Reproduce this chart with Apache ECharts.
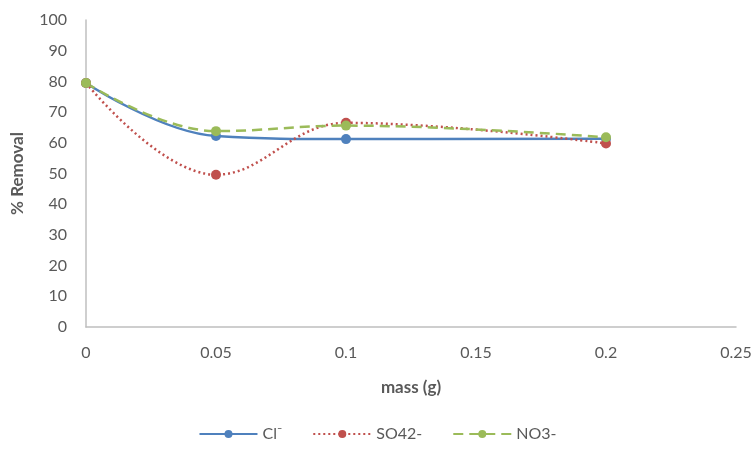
<!DOCTYPE html>
<html>
<head>
<meta charset="utf-8">
<script src="https://cdn.jsdelivr.net/npm/echarts@6/dist/echarts.min.js"></script>
<style>
  html, body { margin: 0; padding: 0; background: #fff; }
  #chart { width: 755px; height: 455px; }
</style>
</head>
<body>
<div id="chart"></div>
<script>
// Adsorbent mass (g) and removal percentage per anion
const mass = [0, 0.05, 0.1, 0.2];
const chloride = [79.5, 62.2, 61.2, 61.3];
const sulfate = [79.5, 49.6, 66.5, 59.8];
const nitrate = [79.5, 63.8, 65.6, 61.8];
const seriesNames = ['Cl\u207B', 'SO42-', 'NO3-'];

const FONT = 'Lato, "Open Sans", sans-serif';
const axisGrey = '#bfbfbf';
const labelGrey = '#595959';

function pairs(vals) {
  return mass.map((m, i) => [m, vals[i]]);
}

function makeSeries(name, vals, color, type) {
  return {
    name: name,
    type: 'line',
    data: pairs(vals),
    smooth: 0.4,
    symbol: 'circle',
    symbolSize: 10,
    itemStyle: { color: color },
    lineStyle: { color: color, width: 2.5, type: type },
    emphasis: { disabled: true }
  };
}

const chart = echarts.init(document.getElementById('chart'), null, { renderer: 'canvas' });
chart.setOption({
  animation: false,
  backgroundColor: '#ffffff',
  textStyle: { fontFamily: FONT },
  grid: { left: 86, right: 19, top: 20, bottom: 128, containLabel: false },
  xAxis: {
    type: 'value',
    min: 0, max: 0.25, interval: 0.05,
    name: 'mass (g)',
    nameLocation: 'middle',
    nameGap: 52,
    nameTextStyle: { fontFamily: FONT, fontSize: 17, fontWeight: 'bold', color: labelGrey },
    axisLine: { show: true, lineStyle: { color: axisGrey, width: 1.5 } },
    axisTick: { show: false },
    splitLine: { show: false },
    axisLabel: { color: labelGrey, fontSize: 16, fontFamily: FONT, margin: 18 }
  },
  yAxis: {
    type: 'value',
    min: 0, max: 100, interval: 10,
    name: '% Removal',
    nameLocation: 'middle',
    nameGap: 60,
    nameTextStyle: { fontFamily: FONT, fontSize: 17, fontWeight: 'bold', color: labelGrey },
    axisLine: { show: true, lineStyle: { color: axisGrey, width: 1.5 } },
    axisTick: { show: false },
    splitLine: { show: false },
    axisLabel: { color: labelGrey, fontSize: 16, fontFamily: FONT, margin: 19 }
  },
  legend: {
    bottom: 8,
    left: 'center',
    itemWidth: 58,
    itemHeight: 10,
    itemGap: 30,
    textStyle: { color: labelGrey, fontSize: 16, fontFamily: FONT },
    data: seriesNames
  },
  series: [
    makeSeries(seriesNames[0], chloride, '#4f81bd', 'solid'),
    makeSeries(seriesNames[1], sulfate, '#c0504d', [2, 3]),
    makeSeries(seriesNames[2], nitrate, '#9bbb59', [10, 6])
  ]
});
</script>
</body>
</html>
